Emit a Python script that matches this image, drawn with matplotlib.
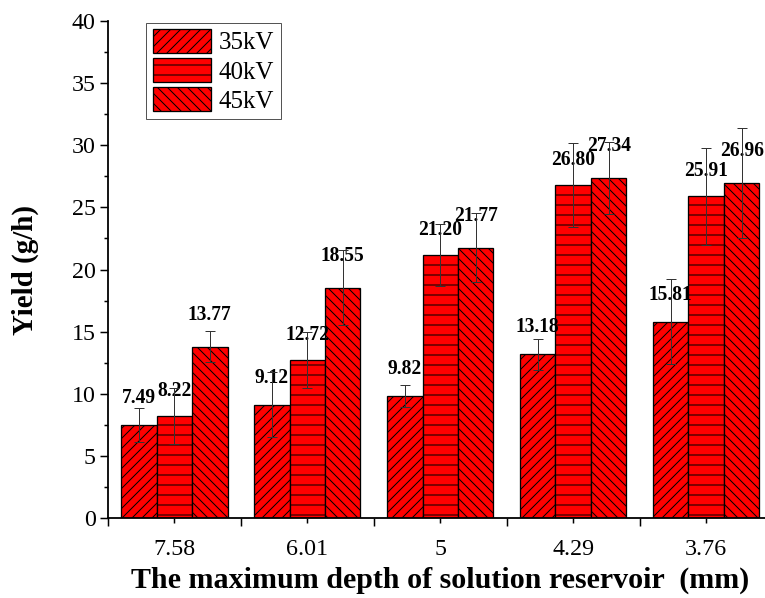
import numpy as np
import matplotlib
matplotlib.use("Agg")
import matplotlib.pyplot as plt
from matplotlib.ticker import MultipleLocator

# depth of reservoir (mm) categories
depths = ["7.58", "6.01", "5", "4.29", "3.76"]
series_names = ["35kV", "40kV", "45kV"]

# yield (g/h)
yield_35 = [7.49, 9.12, 9.82, 13.18, 15.81]
yield_40 = [8.22, 12.72, 21.20, 26.80, 25.91]
yield_45 = [13.77, 18.55, 21.77, 27.34, 26.96]

# error bars
err_35 = [1.35, 2.62, 0.88, 1.26, 3.44]
err_40 = [2.27, 2.28, 2.50, 3.37, 3.90]
err_45 = [1.25, 3.00, 2.74, 2.90, 4.40]

# render at 60 dpi so the hatch spacing (~10 px) matches the original;
# sizes below are given in pixels and converted to points with K
DPI = 60
K = 72 / DPI

plt.rcParams["font.family"] = ["Liberation Serif", "DejaVu Serif"]
plt.rcParams["hatch.linewidth"] = 1.0 * K

fig = plt.figure(figsize=(765 / DPI, 598 / DPI), dpi=DPI)
ax = fig.add_axes([0.141, 0.1338, 0.869, 0.831])

x = np.arange(len(depths))
width = 0.8 / 3
hatches = ["//", "-", "\\\\"]
label_offsets = [27, 25, 32]  # px above bar top

groups = [(yield_35, err_35), (yield_40, err_40), (yield_45, err_45)]
for i, (vals, errs) in enumerate(groups):
    xpos = x + (i - 1) * width
    ax.bar(xpos, vals, width, color="#ff0000", edgecolor="black",
           linewidth=1.3 * K, hatch=hatches[i], label=series_names[i], zorder=2)
    ax.errorbar(xpos, vals, yerr=errs, fmt="none", ecolor="#333333",
                elinewidth=1.0 * K, capsize=5 * K, capthick=1.0 * K, zorder=4)
    for xp, v in zip(xpos, vals):
        ax.annotate(f"{v:.2f}", (xp, v), xytext=(0, label_offsets[i] * K),
                    textcoords="offset points", ha="center", va="center",
                    fontsize=19.5 * K, fontweight="bold", zorder=3)

ax.set_xlim(-0.5, 4.5)
ax.set_ylim(0, 40)

# long ticks between groups, short ticks + labels at group centres
ax.set_xticks(np.append(x - 0.5, x[-1] + 0.5), minor=False)
ax.set_xticklabels([])
ax.set_xticks(x, minor=True)
ax.set_xticklabels(depths, minor=True, fontsize=24 * K)
ax.tick_params(axis="x", which="major", direction="out", length=8 * K, width=1.5 * K)
ax.tick_params(axis="x", which="minor", direction="out", length=5 * K, width=1.5 * K,
               pad=16 * K)

ax.yaxis.set_major_locator(MultipleLocator(5))
ax.yaxis.set_minor_locator(MultipleLocator(2.5))
ax.tick_params(axis="y", which="major", direction="out", length=8 * K, width=1.5 * K,
               labelsize=24 * K, pad=4 * K)
ax.tick_params(axis="y", which="minor", direction="out", length=4 * K, width=1.5 * K)

for side in ["top", "right"]:
    ax.spines[side].set_visible(False)
for side in ["left", "bottom"]:
    ax.spines[side].set_linewidth(1.8 * K)

ax.set_xlabel("The maximum depth of solution reservoir  (mm)", fontsize=30 * K,
              fontweight="bold", labelpad=7 * K)
ax.set_ylabel("Yield (g/h)", fontsize=29 * K, fontweight="bold", labelpad=33 * K)

leg = ax.legend(loc="upper left", bbox_to_anchor=(0.058, 0.997), borderaxespad=0,
                fontsize=25 * K, handlelength=2.35, handleheight=1.1,
                handletextpad=0.3, labelspacing=0.15, borderpad=0.25,
                fancybox=False, framealpha=1)
leg.get_frame().set_edgecolor("#555555")
leg.get_frame().set_linewidth(1.0 * K)

fig.savefig("out.png", dpi=DPI)
